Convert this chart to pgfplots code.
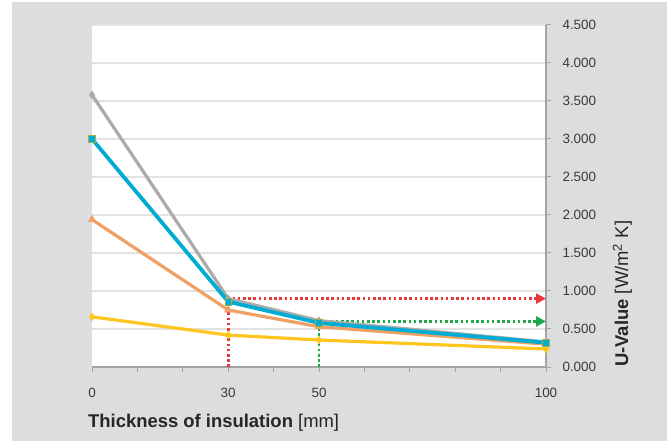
\documentclass[border=0pt]{standalone}
\usepackage{pgfplots}
\pgfplotsset{compat=1.18}
\usepackage{fontspec}
\setmainfont{Liberation Sans}
\usetikzlibrary{arrows.meta}
\definecolor{bggray}{HTML}{DCDDDF}
\definecolor{gridgray}{HTML}{E2E2E2}
\definecolor{axisgray}{HTML}{A4A4A4}
\definecolor{labgray}{HTML}{3A3A3A}
\definecolor{sgray}{HTML}{ABABAB}
\definecolor{sblue}{HTML}{00ACD4}
\definecolor{sorange}{HTML}{EFA064}
\definecolor{syellow}{HTML}{FEC61E}
\definecolor{sred}{HTML}{E8383A}
\definecolor{sgreen}{HTML}{1FA84A}
\definecolor{sqedge}{HTML}{9FB24A}
\begin{document}
\begin{tikzpicture}
\fill[white] (-92bp,-74bp) rectangle (575bp,367bp);
\fill[bggray] (-80bp,-74bp) rectangle (575bp,365bp);
\begin{axis}[at={(0,0)}, anchor=south west, scale only axis,
  width=454bp, height=342bp,
  xmin=0, xmax=100, ymin=0, ymax=4.5,
  axis x line*=bottom, axis y line*=right,
  axis line style={draw=axisgray, line width=1.2bp, -},
  axis background/.style={fill=white},
  xtick={0,10,20,30,40,50,60,70,80,90,100},
  xticklabels={0,,,30,,50,,,,,100},
  ytick={0,0.5,1,1.5,2,2.5,3,3.5,4,4.5},
  ymajorgrids, grid style={draw=gridgray, line width=1.5bp},
  tick align=outside, major tick length=5bp,
  tick style={draw=axisgray, line width=1bp},
  /pgf/number format/assume math mode=true,
  y tick label style={/pgf/number format/fixed, /pgf/number format/fixed zerofill, /pgf/number format/precision=3, /pgf/number format/use period, xshift=8bp},
  ticklabel style={font=\fontsize{13.5}{16}\selectfont, text=labgray},
  x tick label style={yshift=-13bp},
  clip=false,
]
\addplot[sred, line width=2.8bp, dash pattern=on 2.6bp off 2.6bp, -{Triangle[length=10bp,width=10bp]}] coordinates {(30,0) (30,0.9) (100,0.9)};
\addplot[sgreen, line width=2.8bp, dash pattern=on 2.6bp off 2.6bp, -{Triangle[length=10bp,width=10bp]}] coordinates {(50,0) (50,0.6) (100,0.6)};
\addplot[sgray, line width=3.2bp, mark=diamond*, mark size=3.8bp, mark options={solid, fill=sgray, line width=0.5bp}] coordinates {(0,3.58) (30,0.90) (50,0.61) (100,0.33)};
\addplot[sorange, line width=3.2bp, mark=triangle*, mark size=4.3bp, mark options={solid, fill=sorange, line width=0.5bp}] coordinates {(0,1.94) (30,0.75) (50,0.53) (100,0.30)};
\addplot[syellow, line width=3.2bp, mark=diamond*, mark size=3.8bp, mark options={solid, fill=syellow, line width=0.5bp}] coordinates {(0,0.66) (30,0.42) (50,0.355) (100,0.237)};
\addplot[sblue, line width=3.8bp, mark=square*, mark size=3.3bp, mark options={solid, fill=sblue, draw=sqedge, line width=0.8bp}] coordinates {(0,3.00) (30,0.86) (50,0.58) (100,0.32)};
\end{axis}
\node[anchor=base west, inner sep=0pt, text=black!85, font=\fontsize{18.5}{22}\selectfont] at (-4bp,-60bp) {\textbf{Thickness of insulation} [mm]};
\node[anchor=base west, rotate=90, inner sep=0pt, text=black!85, font=\fontsize{18.5}{22}\selectfont] at (536bp,0bp) {\textbf{U-Value} [W/m\textsuperscript{2} K]};
\pgfresetboundingbox
\useasboundingbox (-92bp,-74bp) rectangle (575bp,367bp);
\end{tikzpicture}
\end{document}
